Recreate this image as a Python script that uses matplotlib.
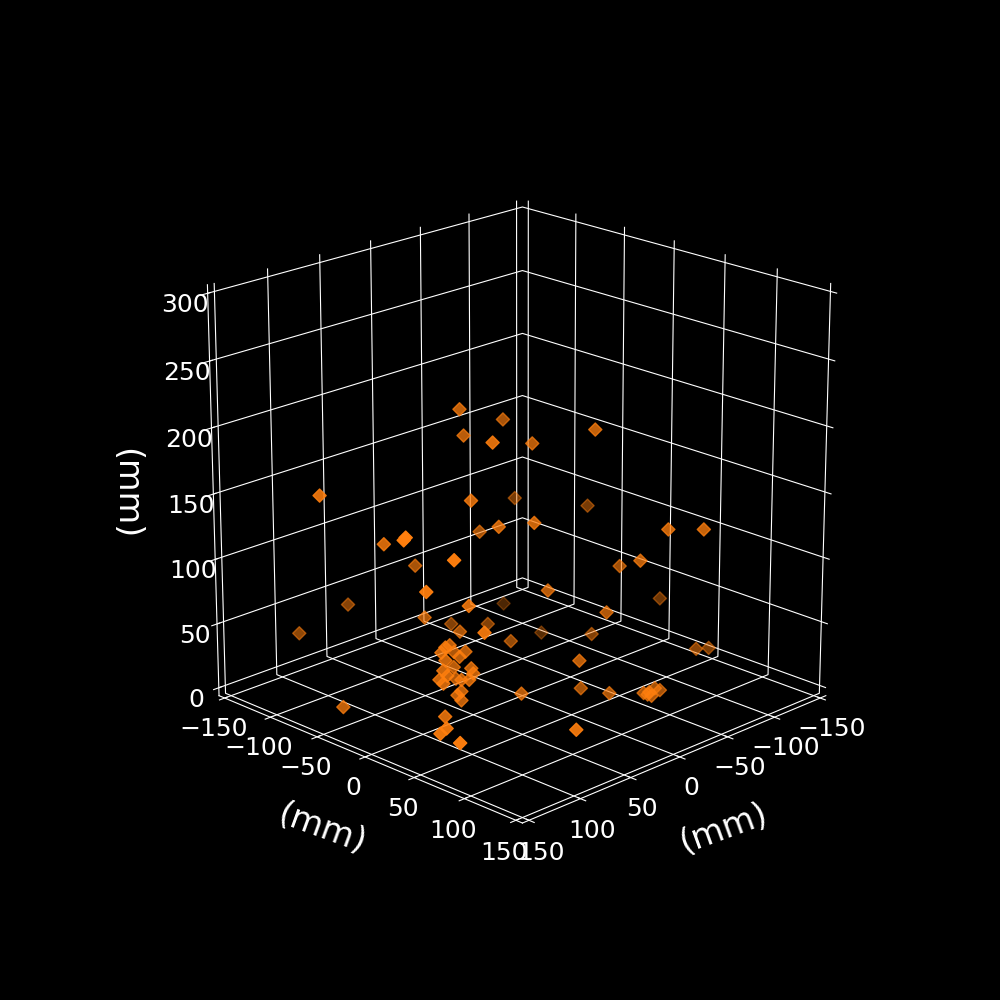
import matplotlib
matplotlib.use("Agg")
import matplotlib.pyplot as plt

# marker positions in mm
x_vals = [7, -30, 5, 15, -30, 112, 26, -56, 12, -3, -6, 80, 98, 99, 74, 40, 88, 60, 95, 52,
          -65, 50, 7, -12, 32, 59, -9, -70, -57, -94, -74, -92, -70, -60, -122, -13, -43, -66, -110, -127,
          -14, -26, -34, 29, 20, 118, -50, -50, -52, -64, -64, -56,
          52, 64, 66, 40, 44, 47, 64, 50, 70, 68, 72, 70, 44, 51, 52, 46, 45, 56, 58, 56, 80, 94, 102, 102]
y_vals = [-57, -50, -55, -15, -20, -92, -26, -64, -12, -47, 6, -60, -18, -19, 6, -70, -8, -121, -136, -2,
          -85, -50, -67, -48, -32, 21, -21, -50, 17, -26, 74, 92, 30, 60, 22, 13, 43, 6, 70, 67,
          44, 34, 55, 83, 19, -64, 74, 78, 80, 72, 77, 74,
          -22, -14, -16, -30, -14, -17, -14, -20, -10, -8, -12, -10, -24, -11, -2, -6, -5, -6, -8, -6, 2, 18, 20, 40]
z_vals = [202, 187, 182, 189, 176, 154, 145, 116, 125, 108, 128, 117, 138, 136, 121, 87, 97, 48, 31, 78,
          24, 55, 33, 33, 44, 66, 28, 9, 189, 110, 123, 123, 84, 99, 42, 76, 59, 25, 19, 14,
          30, 2, 2, 1, 7, 1, 3, 3, 2, 2, 2, 2,
          42, 46, 42, 31, 37, 33, 36, 25, 31, 27, 24, 21, 13, 18, 21, 27, 23, 12, 9, 5, 2, 2, 1, 0]

xy_ticks = [-150, -100, -50, 0, 50, 100, 150]
z_ticks = [0, 50, 100, 150, 200, 250, 300]

plt.rcParams["axes3d.automargin"] = True

fig = plt.figure(figsize=(10, 10), facecolor="black")
ax = fig.add_axes([0.145, 0.1285, 0.735, 0.735], projection="3d", facecolor="black")

ax.scatter(x_vals, y_vals, z_vals, marker="D", s=45, c="#ff7f0e")

ax.set_xlim(-150, 150)
ax.set_ylim(-150, 150)
ax.set_zlim(0, 300)
ax.set_xticks(xy_ticks)
ax.set_yticks(xy_ticks)
ax.set_zticks(z_ticks)
ax.view_init(elev=20, azim=45)
ax.set_box_aspect((1, 1, 1))

# white grid and axes on black panes
for axis in [ax.xaxis, ax.yaxis, ax.zaxis]:
    axis.set_pane_color((0, 0, 0, 0))
    axis.pane.set_edgecolor("#999999")
    axis.line.set_color("white")
    axis._axinfo["grid"]["color"] = "white"
    axis._axinfo["tick"]["color"] = "white"
    axis.label.set_color("white")

ax.tick_params(colors="white", labelsize=18, pad=2)
ax.set_xlabel("(mm)", fontsize=24, labelpad=16, rotation=20)
ax.set_ylabel("(mm)", fontsize=24, labelpad=16, rotation=-20)
ax.set_zlabel("(mm)", fontsize=24, labelpad=18, rotation=270)

fig.savefig("out.png", dpi=100, facecolor="black")
